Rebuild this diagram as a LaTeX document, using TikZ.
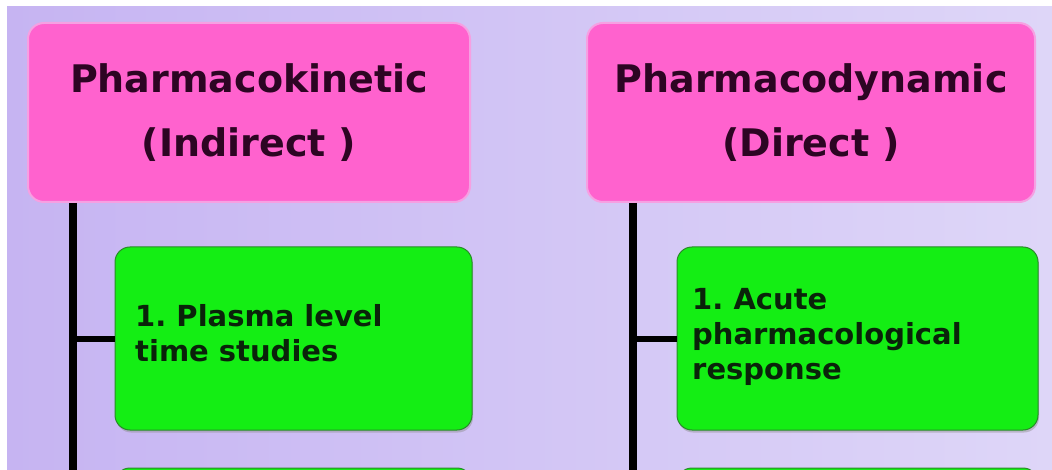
\documentclass[tikz,border=0pt]{standalone}
\usepackage{fontspec}
\setmainfont{DejaVu Sans}
\usetikzlibrary{shadows}
\frenchspacing
\definecolor{bgL}{RGB}{198,180,242}
\definecolor{bgM}{RGB}{222,196,250}
\definecolor{bgR}{RGB}{222,214,248}
\definecolor{pinkfill}{RGB}{255,98,206}
\definecolor{pinkrim}{RGB}{246,160,226}
\definecolor{greenfill}{RGB}{20,238,20}
\definecolor{greenrim}{RGB}{40,140,40}
\definecolor{titletext}{RGB}{45,5,35}
\definecolor{itemtext}{RGB}{10,35,10}
\tikzset{
  headbox/.style={draw=pinkrim, line width=2pt, fill=pinkfill, rounded corners=16pt,
    minimum height=179pt, align=center, text=titletext,
    font=\fontsize{38}{64}\selectfont\bfseries},
  itembox/.style={draw=greenrim, line width=1pt, fill=greenfill, rounded corners=15pt,
    minimum height=183pt, align=left, text=itemtext, inner ysep=0pt,
    font=\fontsize{29}{35}\selectfont\bfseries,
    drop shadow={shadow xshift=1pt, shadow yshift=-2.5pt, fill=black!45, opacity=.45}},
  itemtext/.style={anchor=west, align=left, text=itemtext, inner sep=0pt,
    font=\fontsize{29}{35}\selectfont\bfseries},
  trunk/.style={draw=black, line width=8pt},
  branch/.style={draw=black, line width=6pt}
}
\begin{document}
\begin{tikzpicture}[x=1pt,y=-1pt]
\useasboundingbox (0,0) rectangle (1052,470);
\fill[white] (0,0) rectangle (1052,470);
\shade[left color=bgL, middle color=bgM, right color=bgR] (7,7) rectangle (1052,470);
\begin{scope}
\clip (0,0) rectangle (1052,470);
% trunks
\coordinate (tl) at (73,480);
\coordinate (tr) at (633,480);
\node[headbox, minimum width=442pt] (pk) at (249,112.5) {Pharmacokinetic\\(Indirect )};
\node[headbox, minimum width=448pt] (pd) at (811,112.5) {Pharmacodynamic\\(Direct )};
\draw[trunk] (pk.south west -| tl) -- (tl);
\draw[trunk] (pd.south west -| tr) -- (tr);
\node[itembox, minimum width=357pt] (g1) at (293.5,338.5) {};
\node[itembox, minimum width=361pt] (g2) at (857.5,338.5) {};
\node[itemtext] (t1) at (135,333) {1. Plasma level\\time studies};
\node[itemtext] (t2) at (692,337) {1. Acute\\pharmacological\\response};
\draw[branch] (tl |- g1.west) -- (g1.west);
\draw[branch] (tr |- g2.west) -- (g2.west);
% tops of the next boxes, cut off by the lower edge
\node[itembox, minimum width=357pt, minimum height=60pt] (g3) at (293.5,498) {};
\node[itembox, minimum width=361pt, minimum height=60pt] (g4) at (857.5,498) {};
\end{scope}
\end{tikzpicture}
\end{document}
